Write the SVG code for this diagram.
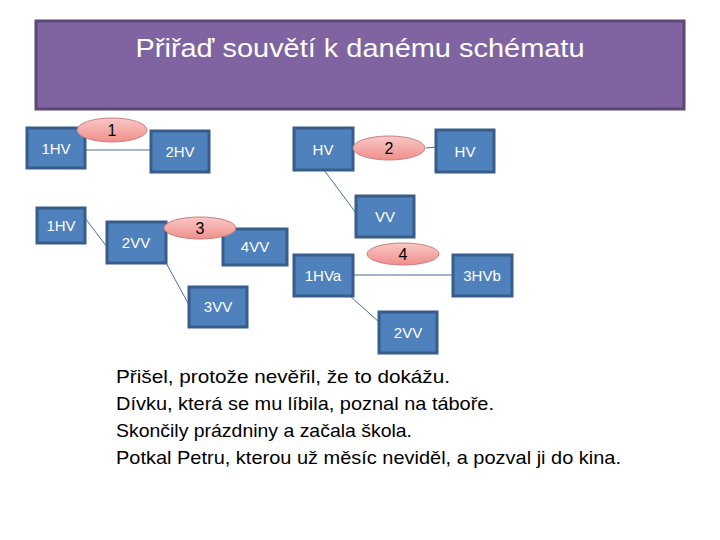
<svg xmlns="http://www.w3.org/2000/svg" width="720" height="540" viewBox="0 0 720 540">
<defs>
<linearGradient id="pink" x1="0" y1="0" x2="0" y2="1">
<stop offset="0" stop-color="#F9C8C6"/>
<stop offset="1" stop-color="#F08F8C"/>
</linearGradient>
<style>
.box{fill:#4F81BD;stroke:#385D8A;stroke-width:3}
.bt{fill:#fff;font-family:"Liberation Sans",Arial,sans-serif;font-size:15px;text-anchor:middle}
.ell{fill:url(#pink);stroke:#C98280;stroke-width:1}
.et{fill:#000;font-family:"Liberation Sans",Arial,sans-serif;font-size:16px;text-anchor:middle}
.ln{stroke:#4A6F9A;stroke-width:1;fill:none}
.txt{fill:#000;font-family:"Liberation Sans",Arial,sans-serif;font-size:19px}
</style>
</defs>
<rect width="720" height="540" fill="#fff"/>
<g id="title">
<rect x="36" y="21" width="648" height="88" fill="#8064A2" stroke="#5C4776" stroke-width="3"/>
<text x="360" y="57" fill="#fff" font-family="'Liberation Sans',Arial,sans-serif" font-size="26" text-anchor="middle" textLength="449" lengthAdjust="spacingAndGlyphs">Přiřaď souvětí k danému schématu</text>
</g>
<g id="connectors">
<line class="ln" x1="85" y1="150" x2="151" y2="150"/>
<line class="ln" x1="426" y1="148" x2="436" y2="147"/>
<line class="ln" x1="324" y1="170" x2="356" y2="213"/>
<line class="ln" x1="85" y1="218" x2="107" y2="247"/>
<line class="ln" x1="165" y1="261" x2="189" y2="305"/>
<line class="ln" x1="353" y1="275" x2="453" y2="275"/>
<line class="ln" x1="350" y1="296" x2="379" y2="322"/>
</g>
<g id="n1HV"><rect class="box" x="27" y="128" width="58" height="40"/><text class="bt" x="56" y="154">1HV</text></g>
<g id="e1"><ellipse class="ell" cx="112" cy="130" rx="35" ry="12"/><text class="et" x="112" y="136">1</text></g>
<g id="n2HV"><rect class="box" x="151" y="131" width="58" height="41"/><text class="bt" x="180" y="157">2HV</text></g>
<g id="nHV1"><rect class="box" x="294" y="128" width="59" height="42"/><text class="bt" x="323" y="155">HV</text></g>
<g id="e2"><ellipse class="ell" cx="389" cy="148" rx="36" ry="12"/><text class="et" x="389" y="154">2</text></g>
<g id="nHV2"><rect class="box" x="436" y="130" width="58" height="42"/><text class="bt" x="465" y="157">HV</text></g>
<g id="nVV"><rect class="box" x="356" y="196" width="58" height="41"/><text class="bt" x="385" y="222">VV</text></g>
<g id="n1HVb"><rect class="box" x="37" y="208" width="48" height="35"/><text class="bt" x="61" y="231">1HV</text></g>
<g id="n2VV"><rect class="box" x="107" y="222" width="59" height="41"/><text class="bt" x="136" y="248">2VV</text></g>
<g id="n4VV"><rect class="box" x="223" y="229" width="64" height="36"/><text class="bt" x="255" y="252">4VV</text></g>
<g id="e3"><ellipse class="ell" cx="200" cy="228" rx="36" ry="11"/><text class="et" x="200" y="234">3</text></g>
<g id="n3VV"><rect class="box" x="189" y="287" width="58" height="40"/><text class="bt" x="218" y="312">3VV</text></g>
<g id="n1HVa"><rect class="box" x="294" y="255" width="59" height="41"/><text class="bt" x="323" y="281">1HVa</text></g>
<g id="e4"><ellipse class="ell" cx="403" cy="254" rx="36" ry="11"/><text class="et" x="403" y="260">4</text></g>
<g id="n3HVb"><rect class="box" x="453" y="255" width="59" height="41"/><text class="bt" x="482" y="281">3HVb</text></g>
<g id="n2VVb"><rect class="box" x="379" y="312" width="58" height="41"/><text class="bt" x="408" y="338">2VV</text></g>
<g id="sentences">
<text class="txt" x="116" y="383" textLength="334" lengthAdjust="spacingAndGlyphs">Přišel, protože nevěřil, že to dokážu.</text>
<text class="txt" x="116" y="410" textLength="378" lengthAdjust="spacingAndGlyphs">Dívku, která se mu líbila, poznal na táboře.</text>
<text class="txt" x="116" y="437" textLength="296" lengthAdjust="spacingAndGlyphs">Skončily prázdniny a začala škola.</text>
<text class="txt" x="116" y="464" textLength="505" lengthAdjust="spacingAndGlyphs">Potkal Petru, kterou už měsíc neviděl, a pozval ji do kina.</text>
</g>
</svg>
